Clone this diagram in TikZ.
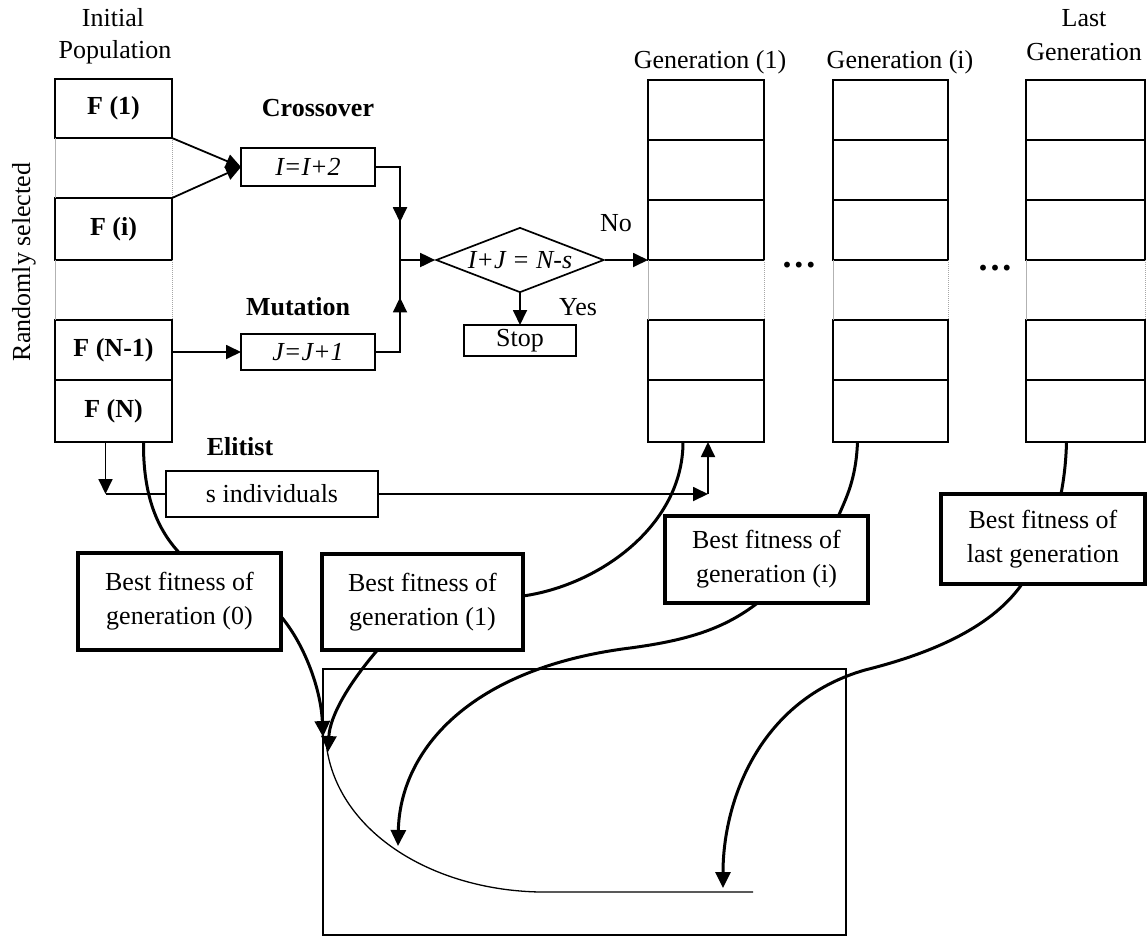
\documentclass[tikz,border=0pt]{standalone}
\usepackage{fontspec}
\setmainfont{Liberation Serif}
\usetikzlibrary{arrows.meta,shapes.geometric,calc,decorations.markings}
\begin{document}
\begin{tikzpicture}[x=1pt,y=-1pt,
  font=\fontsize{26}{34}\selectfont,
  cellbox/.style={draw, line width=1.7pt, inner sep=0pt, outer sep=0pt, anchor=north west, font=\fontsize{26}{34}\selectfont\bfseries},
  blankcell/.style={inner sep=0pt, outer sep=0pt, anchor=north west},
  faintl/.style={draw=gray!60, line width=1pt},
  faintr/.style={draw=gray!70, line width=1pt, densely dotted},
  opbox/.style={draw, line width=1.7pt, inner sep=0pt, outer sep=0pt, anchor=north west},
  bestbox/.style={draw, line width=3.5pt, inner sep=0pt, outer sep=0pt, anchor=north west, align=center},
  conn/.style={line width=1.8pt},
  tip/.style={-{Triangle[length=15pt,width=14pt]}},
  curvy/.style={line width=3pt},
  ctip/.style={-{Triangle[length=16pt,width=15pt]}},
  midarrow/.style={postaction={decorate}, decoration={markings, mark=at position #1 with {\arrow{Triangle[length=15pt,width=14pt]}}}},
  lbl/.style={inner sep=0pt},
  boldlbl/.style={inner sep=0pt, font=\fontsize{26}{34}\selectfont\bfseries},
  dotlbl/.style={inner sep=0pt, font=\fontsize{36}{36}\selectfont\bfseries}
]
\useasboundingbox (0,0) rectangle (1148,938);

% ---------- Initial population ----------
\node[lbl] (tInit) at (113,18) {Initial};
\node[lbl] (tPop) at (115,52) {Population};
\node[lbl, rotate=90] (tRand) at (24,262) {Randomly selected};

\node[cellbox, minimum width=117pt, minimum height=59pt] (ip1) at (55,79) {F (1)};
\node[blankcell, minimum width=117pt, minimum height=60pt] (ip2) at (55,138) {};
\node[cellbox, minimum width=117pt, minimum height=62pt] (ip3) at (55,198) {F (i)};
\node[blankcell, minimum width=117pt, minimum height=60pt] (ip4) at (55,260) {};
\node[cellbox, minimum width=117pt, minimum height=60pt] (ip5) at (55,320) {F (N-1)};
\node[cellbox, minimum width=117pt, minimum height=62pt] (ip6) at (55,380) {F (N)};
\foreach \c in {ip2,ip4}{
  \draw[faintl] (\c.north west) -- (\c.south west);
  \draw[faintr] (\c.north east) -- (\c.south east);
}

% ---------- Generation columns ----------
\foreach \p/\x/\w in {ga/648/116, gb/833/115, gc/1026/119}{
  \node[cellbox, minimum width=\w pt, minimum height=60pt] (\p1) at (\x,80) {};
  \node[cellbox, minimum width=\w pt, minimum height=60pt] (\p2) at (\x,140) {};
  \node[cellbox, minimum width=\w pt, minimum height=60pt] (\p3) at (\x,200) {};
  \node[blankcell, minimum width=\w pt, minimum height=60pt] (\p4) at (\x,260) {};
  \node[cellbox, minimum width=\w pt, minimum height=60pt] (\p5) at (\x,320) {};
  \node[cellbox, minimum width=\w pt, minimum height=62pt] (\p6) at (\x,380) {};
  \draw[faintl] (\p4.north west) -- (\p4.south west);
  \draw[faintr] (\p4.north east) -- (\p4.south east);
}
\node[lbl] (tG1) at (710,62) {Generation (1)};
\node[lbl] (tGi) at (900,62) {Generation (i)};
\node[lbl] (tLast) at (1084,18) {Last};
\node[lbl] (tLastG) at (1084,52) {Generation};
\node[dotlbl] (dots1) at (799,265) {.\hspace{3pt}.\hspace{3pt}.};
\node[dotlbl] (dots2) at (995,268) {.\hspace{3pt}.\hspace{3pt}.};

% ---------- Crossover / Mutation ----------
\node[boldlbl] (tCross) at (318,108) {Crossover};
\node[opbox, minimum width=134pt, minimum height=38pt, font=\fontsize{26}{34}\selectfont\itshape] (xo) at (241,148) {I=I+2};
\node[boldlbl] (tMut) at (298,307) {Mutation};
\node[opbox, minimum width=134pt, minimum height=36pt, font=\fontsize{26}{34}\selectfont\itshape] (mu) at (241,334) {J=J+1};

\draw[conn, tip] (ip1.south east) -- (xo.west);
\draw[conn, tip] (ip3.north east) -- (xo.west);
\draw[conn, tip] (ip5.east |- mu.west) -- (mu.west);

\coordinate (jn) at (400,260);
\draw[conn, midarrow=0.68] (xo.east) -| (jn);
\draw[conn, midarrow=0.68] (mu.east) -| (jn);

% ---------- Decision ----------
\node[diamond, draw, line width=1.7pt, minimum width=168pt, minimum height=65pt, inner sep=0pt, aspect=2.6, font=\fontsize{26}{34}\selectfont\itshape] (dm) at (520,260) {I+J = N-s};
\draw[conn, tip] (jn) -- (dm.west);
\draw[conn, tip] (dm.east) -- (ga3.south west);
\node[lbl] (tNo) at (616,223) {No};
\node[opbox, minimum width=112pt, minimum height=31pt] (stop) at (464,325) {Stop};
\draw[conn, tip] (dm.south) -- (stop.north);
\node[lbl] (tYes) at (578,307) {Yes};

% ---------- Elitist ----------
\node[boldlbl] (tElit) at (240,447) {Elitist};
\node[opbox, minimum width=212pt, minimum height=46pt] (si) at (166,471) {s individuals};
\coordinate (e1) at ($(ip6.south)+(-8,0)$);
\coordinate (e2) at (e1 |- si.west);
\coordinate (g1b) at ($(ga6.south)+(2,0)$);
\coordinate (e3) at (g1b |- si.east);
\draw[conn, tip] (e1) -- (e2);
\draw[conn] (e2) -- (si.west);
\draw[conn, tip] (si.east) -- (e3);
\draw[conn, tip] (e3) -- (g1b);

% ---------- Best fitness boxes ----------
\node[bestbox, minimum width=203pt, minimum height=97pt] (bf0) at (78,553) {Best fitness of\\generation (0)};
\node[bestbox, minimum width=201pt, minimum height=96pt] (bf1) at (322,554) {Best fitness of\\generation (1)};
\node[bestbox, minimum width=203pt, minimum height=87pt] (bfi) at (665,516) {Best fitness of\\generation (i)};
\node[bestbox, minimum width=204pt, minimum height=90pt] (bfl) at (941,494) {Best fitness of\\last generation};

\draw[curvy] ($(ip6.south)+(30,0)$) .. controls (143,497) and (158,530) .. (bf0.north);
\draw[curvy] ($(ga6.south)+(-23,0)$) .. controls (683,525) and (600,585) .. ($(bf1.east)+(0,-6)$);
\draw[curvy] ($(gb6.south)+(-33,0)$) .. controls (856,480) and (846,498) .. ($(bfi.north)+(72,0)$);
\draw[curvy] ($(gc6.south)+(-19,0)$) .. controls (1066,462) and (1064,478) .. ($(bfl.north)+(18,0)$);

% ---------- Result plot ----------
\node[draw, line width=1.5pt, inner sep=0pt, outer sep=0pt, anchor=north west, minimum width=523pt, minimum height=266pt] (plot) at (323,669) {};
\coordinate (t0) at (323,737);
\coordinate (t1) at (328,752);
\coordinate (ti) at (398,846);
\coordinate (tl) at (723,888);
\coordinate (m0) at (326,742);
\coordinate (m1) at (540,892);
\coordinate (m2) at (753,892);
\draw[line width=1.3pt] (m0) .. controls (335,830) and (430,890) .. (m1) -- (m2);

\draw[curvy, ctip] ($(bf0.east)+(0,15)$) .. controls (305,645) and (321,690) .. (t0);
\draw[curvy, ctip] ($(bf1.south)+(-45,0)$) .. controls (350,682) and (330,715) .. (t1);
\draw[curvy, ctip] ($(bfi.south)+(-9,0)$) .. controls (725,628) and (690,640) .. (630,648) .. controls (470,668) and (400,750) .. (ti);
\draw[curvy, ctip] ($(bfl.south)+(-21,0)$) .. controls (990,630) and (925,655) .. (865,670) .. controls (760,700) and (723,800) .. (tl);
\end{tikzpicture}
\end{document}
